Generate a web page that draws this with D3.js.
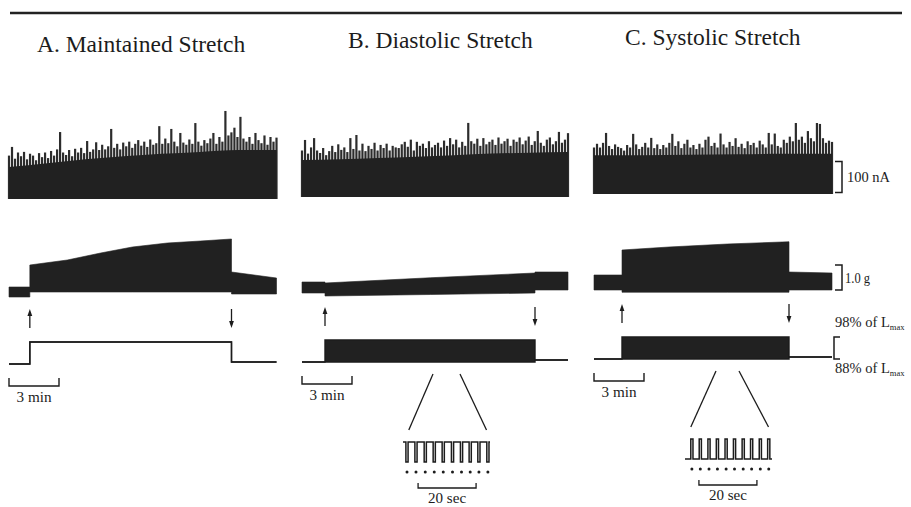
<!DOCTYPE html>
<html><head><meta charset="utf-8">
<script src="https://cdn.jsdelivr.net/npm/d3@7"></script>
<style>
body{margin:0;background:#fff}
svg{display:block}
text{font-family:"Liberation Serif","Times New Roman",serif;fill:#1c1c1c}
</style>
</head><body>
<svg id="fig" width="911" height="507"></svg>
<script>
// ---- panel labels ----
const titles = ["A. Maintained Stretch", "B. Diastolic Stretch", "C. Systolic Stretch"];

// ---- recording timing (min) ----
const durations  = [16.05, 15.96, 14.28];
const stretchOn  = [1.25, 1.38, 1.68];
const stretchOff = [13.35, 13.98, 11.70];

// ---- membrane current: solid floor (nA, evenly spaced in time) ----
const envA = [103, 115, 128, 138, 146, 152, 158, 158];
const envB = [119, 122, 126, 130, 135, 140, 143, 145];
const envC = [125, 125, 127, 128, 130, 130];

// ---- membrane current: spike peaks (nA, evenly spaced in time) ----
const spikesA = [140,168,130,150,138,152,128,146,140,125,148,135,150,132,155,140,160,216,150,142,
  158,138,162,150,165,148,187,152,160,183,158,175,160,170,226,165,178,160,182,170,
  185,165,178,190,172,185,168,192,175,180,235,178,195,180,226,185,170,213,182,175,
  192,178,245,185,172,190,180,195,213,178,200,185,284,205,215,230,200,265,195,185,
  200,178,213,190,180,205,175,200,185,198];
const spikesB = [150,184,140,160,190,150,142,158,135,148,165,145,170,152,160,145,190,155,200,150,
  172,148,165,155,175,150,168,158,172,150,165,160,158,170,178,162,185,150,178,165,
  172,158,180,160,168,175,160,182,165,190,170,185,160,178,165,239,180,172,188,165,
  190,170,178,185,168,192,172,180,188,165,185,178,192,170,182,195,168,180,213,175,
  165,185,192,170,180,210,175,185,206];
const spikesC = [150,162,150,165,197,155,145,160,152,148,140,158,150,194,160,145,152,165,150,181,
  148,160,145,158,150,165,194,155,170,148,162,175,150,158,145,162,150,175,185,155,
  165,150,195,160,150,168,155,180,152,162,148,170,158,165,150,172,160,150,197,160,
  195,155,150,175,165,185,170,229,175,185,165,203,180,170,229,226,180,165,172,168];

// ---- developed force (g): time (min), peak and resting ----
const forceTimeA = [0, 1.25, 1.25, 3.5, 5.5, 7.4, 9.5, 11.5, 13.35, 13.35, 16.05];
const forceTopA  = [0.52, 0.52, 1.40, 1.60, 1.88, 2.12, 2.28, 2.36, 2.44, 1.12, 0.88];
const forceBotA  = [0.12, 0.12, 0.32, 0.32, 0.32, 0.32, 0.32, 0.32, 0.32, 0.24, 0.24];
const forceTimeB = [0, 1.38, 1.38, 7.7, 13.98, 13.98, 15.96];
const forceTopB  = [0.64, 0.64, 0.60, 0.81, 1.00, 1.04, 1.04];
const forceBotB  = [0.20, 0.20, 0.08, 0.14, 0.20, 0.32, 0.32];
const forceTimeC = [0, 1.68, 1.68, 4.5, 8.0, 11.70, 11.70, 14.28];
const forceTopC  = [0.80, 0.80, 1.80, 1.92, 2.04, 2.13, 0.92, 0.88];
const forceBotC  = [0.20, 0.20, 0.11, 0.11, 0.11, 0.11, 0.20, 0.20];

// ---- muscle length (% of Lmax): low / high envelope ----
const lenTimeA = [0, 1.25, 1.25, 13.35, 13.35, 16.05];
const lenLowA  = [88, 88, 98, 98, 88.9, 88.9];
const lenHighA = [88, 88, 98, 98, 88.9, 88.9];
const lenTimeB = [0, 1.38, 1.38, 13.98, 13.98, 15.96];
const lenLowB  = [88, 88, 88, 88, 88.9, 88.9];
const lenHighB = [88, 88, 98, 98, 88.9, 88.9];
const lenTimeC = [0, 1.68, 1.68, 11.70, 11.70, 14.28];
const lenLowC  = [88, 88, 88, 88, 88.9, 88.9];
const lenHighC = [88, 88, 98, 98, 88.9, 88.9];

// ---- expanded 30 s segments: beat times (s) ----
const beatsB = [1.0, 4.1, 7.3, 10.4, 13.5, 16.7, 19.8, 22.8, 25.8, 28.9];
const beatsC = [2.0, 4.9, 7.9, 10.8, 13.8, 16.7, 19.7, 22.6, 25.6, 28.5];
const zoomWinB = [7.86, 9.48];   // min, segment shown expanded
const zoomWinC = [7.32, 8.70];

// ---- calibration labels ----
const timeBarLabel = "3 min";
const detailBarLabel = "20 sec";
const currentCal = "100 nA";
const forceCal = "1.0 g";
const lenHighLabel = "98% of L";
const lenLowLabel = "88% of L";

// ================= drawing =================
const svg = d3.select("#fig");
const ink = "#1c1c1c";
const mass = "#212121";

const x    = d3.scaleLinear().domain([0, 3]).range([0, 50]);        // minutes
const yCur = d3.scaleLinear().domain([0, 100]).range([199, 168]);   // nA
const yF   = d3.scaleLinear().domain([0, 1]).range([300, 275]);     // g
const yLen = d3.scaleLinear().domain([88, 98]).range([364, 342]);   // % Lmax
const xDet = d3.scaleLinear().domain([0, 20]).range([0, 58]);       // seconds
const yDet = d3.scaleLinear().domain([88, 98]).range([464, 444]);   // % Lmax

// header rule
svg.append("line").attr("x1", 10).attr("x2", 902).attr("y1", 13).attr("y2", 13)
  .attr("stroke", "#222").attr("stroke-width", 2.4);

const panels = [
  {x0: 9,   dy: 0, tx: 37,  ty: 52, env: envA, sp: spikesA,
   fT: forceTimeA, fTop: forceTopA, fBot: forceBotA, lT: lenTimeA, lLo: lenLowA, lHi: lenHighA},
  {x0: 302, dy: 2, tx: 348, ty: 50, env: envB, sp: spikesB,
   fT: forceTimeB, fTop: forceTopB, fBot: forceBotB, lT: lenTimeB, lLo: lenLowB, lHi: lenHighB,
   detX: 403, beats: beatsB, win: zoomWinB, mode: "diastolic", barT: [5.2, 25.2]},
  {x0: 594, dy: 5, tx: 625, ty: 50, env: envC, sp: spikesC,
   fT: forceTimeC, fTop: forceTopC, fBot: forceBotC, lT: lenTimeC, lLo: lenLowC, lHi: lenHighC,
   detX: 685, beats: beatsC, win: zoomWinC, mode: "systolic", barT: [4.8, 24.8]}
];

function arrow(g, xp, up) {
  const y1 = 309, y2 = 328;
  g.append("line").attr("x1", xp).attr("x2", xp).attr("y1", up ? y1 + 3 : y1).attr("y2", up ? y2 : y2 - 3)
    .attr("stroke", ink).attr("stroke-width", 1.3);
  const tip = up ? y1 : y2, s = up ? 1 : -1;
  g.append("path").attr("d", `M${xp},${tip} L${xp - 2.4},${tip + 7 * s} L${xp + 2.4},${tip + 7 * s} Z`).attr("fill", ink);
}

panels.forEach((P, k) => {
  const g = svg.append("g").attr("transform", `translate(${P.x0},${-P.dy})`);
  const dur = durations[k];

  g.append("text").attr("x", P.tx - P.x0).attr("y", P.ty).attr("font-size", 23.5).text(titles[k]);

  // current: individual spikes, then the solid floor over their bases
  const n = P.sp.length;
  g.selectAll("rect.sp").data(P.sp).join("rect").attr("class", "sp")
    .attr("x", (d, i) => x(dur * i / (n - 1)) - 1.1)
    .attr("width", 2.2)
    .attr("y", d => yCur(d))
    .attr("height", d => yCur(0) - yCur(d))
    .attr("fill", "#2c2c2c");
  const envT = P.env.map((_, i) => dur * i / (P.env.length - 1));
  g.append("path").datum(P.env)
    .attr("d", d3.area().x((d, i) => x(envT[i])).y0(yCur(0)).y1(d => yCur(d)).curve(d3.curveMonotoneX))
    .attr("fill", mass);

  // force
  g.append("path").datum(P.fTop)
    .attr("d", d3.area().x((d, i) => x(P.fT[i])).y0((d, i) => yF(P.fBot[i])).y1(d => yF(d)))
    .attr("fill", mass).attr("stroke", mass).attr("stroke-width", 0.6);

  // stretch markers
  arrow(g, x(stretchOn[k]), true);
  arrow(g, x(stretchOff[k]), false);

  // length
  g.append("path").datum(P.lHi)
    .attr("d", d3.area().x((d, i) => x(P.lT[i])).y0((d, i) => yLen(P.lLo[i])).y1(d => yLen(d)))
    .attr("fill", mass);
  g.append("path").datum(P.lHi)
    .attr("d", d3.line().x((d, i) => x(P.lT[i])).y(d => yLen(d)))
    .attr("fill", "none").attr("stroke", ink).attr("stroke-width", 1.4);
  g.append("path").datum(P.lLo)
    .attr("d", d3.line().x((d, i) => x(P.lT[i])).y(d => yLen(d)))
    .attr("fill", "none").attr("stroke", ink).attr("stroke-width", 1.4);

  // 3 min time bar
  const by = 386;
  g.append("path").attr("d", `M${x(0)},${by - 8} V${by} H${x(3)} V${by - 8}`)
    .attr("fill", "none").attr("stroke", ink).attr("stroke-width", 1.4);
  g.append("text").attr("x", x(1.5)).attr("y", by + 16).attr("text-anchor", "middle")
    .attr("font-size", 14).attr("textLength", 35).attr("lengthAdjust", "spacingAndGlyphs").text(timeBarLabel);

  // expanded segment
  if (P.detX) {
    const dx = P.detX - P.x0;
    const xd = t => dx + xDet(t);
    [[P.win[0], 2], [P.win[1], 28.8]].forEach(([tm, ts]) => {
      g.append("line").attr("x1", x(tm)).attr("y1", 376).attr("x2", xd(ts)).attr("y2", 432)
        .attr("stroke", ink).attr("stroke-width", 1.3);
    });
    const base = P.mode === "diastolic" ? 98 : 88;
    const peak = P.mode === "diastolic" ? 88 : 98;
    const w = 0.75;
    let d = `M${xd(0)},${yDet(base)}`;
    P.beats.forEach(b => {
      d += ` H${xd(b)} V${yDet(peak)} H${xd(b + w)} V${yDet(base)}`;
    });
    d += ` H${xd(30)}`;
    g.append("path").attr("d", d).attr("fill", "none").attr("stroke", ink).attr("stroke-width", 1.5);
    g.selectAll("circle.beat").data(P.beats).join("circle").attr("class", "beat")
      .attr("cx", b => xd(b + w / 2)).attr("cy", 474).attr("r", 1.5).attr("fill", ink);
    const dby = 490;
    g.append("path").attr("d", `M${xd(P.barT[0])},${dby - 5} V${dby} H${xd(P.barT[1])} V${dby - 5}`)
      .attr("fill", "none").attr("stroke", ink).attr("stroke-width", 1.3);
    g.append("text").attr("x", xd((P.barT[0] + P.barT[1]) / 2)).attr("y", 505).attr("text-anchor", "middle")
      .attr("font-size", 14).attr("textLength", 38).attr("lengthAdjust", "spacingAndGlyphs").text(detailBarLabel);
  }
});

// calibration brackets and labels (aligned with panel C)
const cal = svg.append("g").attr("transform", "translate(0,-5)");
function rbracket(y0, y1) {
  cal.append("path").attr("d", `M835,${y0} H842 V${y1} H835`).attr("fill", "none")
    .attr("stroke", ink).attr("stroke-width", 1.5);
}
rbracket(yCur(105), yCur(5));
cal.append("text").attr("x", 847).attr("y", 187).attr("font-size", 14)
  .attr("textLength", 43).attr("lengthAdjust", "spacingAndGlyphs").text(currentCal);
rbracket(yF(1.2), yF(0.2));
cal.append("text").attr("x", 845).attr("y", 288).attr("font-size", 14)
  .attr("textLength", 25).attr("lengthAdjust", "spacingAndGlyphs").text(forceCal);
cal.append("path").attr("d", `M840,${yLen(98)} H834 V${yLen(88)} H840`).attr("fill", "none")
  .attr("stroke", ink).attr("stroke-width", 1.5);
[[lenHighLabel, 332], [lenLowLabel, 378]].forEach(([s, yy]) => {
  const t = cal.append("text").attr("x", 835).attr("y", yy).attr("font-size", 14.5);
  t.append("tspan").text(s);
  t.append("tspan").attr("font-size", 8.5).attr("dy", 3).text("max");
});
</script>
</body></html>
